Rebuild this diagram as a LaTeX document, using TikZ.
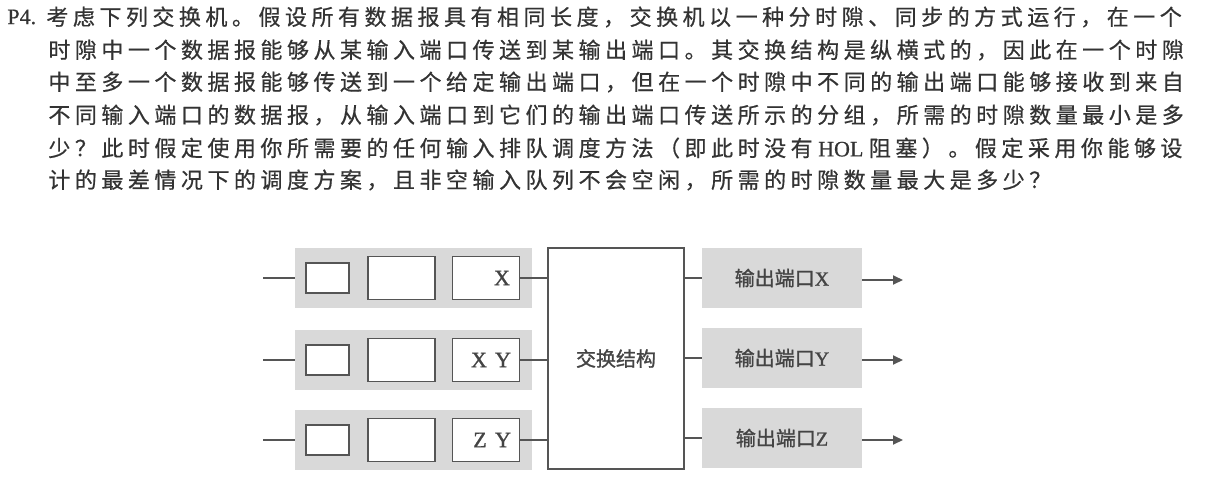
\documentclass[tikz,border=0pt]{standalone}
\usepackage{fontspec}
\setmainfont{Liberation Serif}
\newfontfamily\cjk[LetterSpace=20.5,FakeBold=0.6]{Noto Sans CJK SC}
\newfontfamily\cjkd[FakeBold=1.2]{Noto Sans CJK SC}
\newfontfamily\latd[FakeBold=1.2]{Liberation Serif}
\newfontfamily\lat[FakeBold=0.6]{Liberation Serif}
\usetikzlibrary{arrows.meta}
\definecolor{txtc}{HTML}{333333}
\definecolor{linec}{HTML}{555555}
\definecolor{bandc}{HTML}{D9D9D9}
\definecolor{lblc}{HTML}{444444}
\begin{document}
\begin{tikzpicture}[x=0.5pt,y=-0.5pt,
  txt/.style={anchor=west,inner sep=0pt,text=txtc,font=\cjk\fontsize{11}{13}\selectfont},
  band/.style={fill=bandc,draw=none,minimum width=118.5pt,minimum height=30pt,inner sep=0pt},
  oband/.style={fill=bandc,draw=none,minimum width=80pt,minimum height=30pt,inner sep=0pt,text=lblc,font=\cjkd\fontsize{10}{12}\selectfont},
  qsmall/.style={draw=linec,fill=white,line width=0.9pt,minimum width=21.5pt,minimum height=15pt,inner sep=0pt},
  qbig/.style={draw=linec,fill=white,line width=0.9pt,minimum width=33.5pt,minimum height=21.5pt,inner sep=0pt},
  letter/.style={inner sep=0pt,text=lblc,font=\latd\fontsize{11}{12}\selectfont},
  conn/.style={draw=linec,line width=0.9pt},
  outarrow/.style={conn,-{Triangle[length=5pt,width=4.5pt]}}
]
\useasboundingbox (0,0) rectangle (1213,487);
% ---- question text ----
\node[anchor=west,inner sep=0pt,text=txtc,font=\lat\fontsize{11}{13}\selectfont] (p4) at (7,17) {P4.};
\node[txt] (l1) at (46,17) {考虑下列交换机。假设所有数据报具有相同长度，交换机以一种分时隙、同步的方式运行，在一个};
\node[txt] (l2) at (48,50) {时隙中一个数据报能够从某输入端口传送到某输出端口。其交换结构是纵横式的，因此在一个时隙};
\node[txt] (l3) at (48,82) {中至多一个数据报能够传送到一个给定输出端口，但在一个时隙中不同的输出端口能够接收到来自};
\node[txt] (l4) at (48,115) {不同输入端口的数据报，从输入端口到它们的输出端口传送所示的分组，所需的时隙数量最小是多};
\node[txt] (l5) at (48,148) {少？此时假定使用你所需要的任何输入排队调度方法（即此时没有{\lat\ HOL }阻塞）。假定采用你能够设};
\node[txt] (l6) at (48,180) {计的最差情况下的调度方案，且非空输入队列不会空闲，所需的时隙数量最大是多少？};
% ---- input queues ----
\foreach \i/\y in {1/278,2/360,3/440}{
  \coordinate (in\i) at (263,\y);
  \node[band] (ib\i) at (413.5,\y) {};
  \node[qsmall] (qs\i) at (327.5,\y) {};
  \node[qbig] (qm\i) at (401.5,\y) {};
  \node[qbig] (qr\i) at (486,\y) {};
  \draw[conn] (in\i) -- (ib\i.west);
}
\node[letter] (x1) at (502,278) {X};
\node[letter] (x2) at (479,360) {X};
\node[letter] (y2) at (503,360) {Y};
\node[letter] (z3) at (480,440) {Z};
\node[letter] (y3) at (503,440) {Y};
% ---- switch fabric ----
\node[draw=linec,fill=white,line width=0.9pt,minimum width=68pt,minimum height=110.5pt,inner sep=0pt,
      text=lblc,font=\cjkd\fontsize{10}{12}\selectfont] (sw) at (616,358.5) {交换结构};
% ---- output ports ----
\node[oband] (ob1) at (782,278) {输出端口{\latd X}};
\node[oband] (ob2) at (782,358) {输出端口{\latd Y}};
\node[oband] (ob3) at (782,438) {输出端口{\latd Z}};
\coordinate (o1) at (903,280);
\coordinate (o2) at (903,360);
\coordinate (o3) at (903,440);
\foreach \i in {1,2,3}{
  \draw[conn] (qr\i.east) -- (qr\i.east -| sw.west);
  \draw[conn] (sw.east |- ob\i.west) -- (ob\i.west);
}
\draw[outarrow] (ob1.east |- o1) -- (o1);
\draw[outarrow] (ob2.east |- o2) -- (o2);
\draw[outarrow] (ob3.east |- o3) -- (o3);
\end{tikzpicture}
\end{document}
